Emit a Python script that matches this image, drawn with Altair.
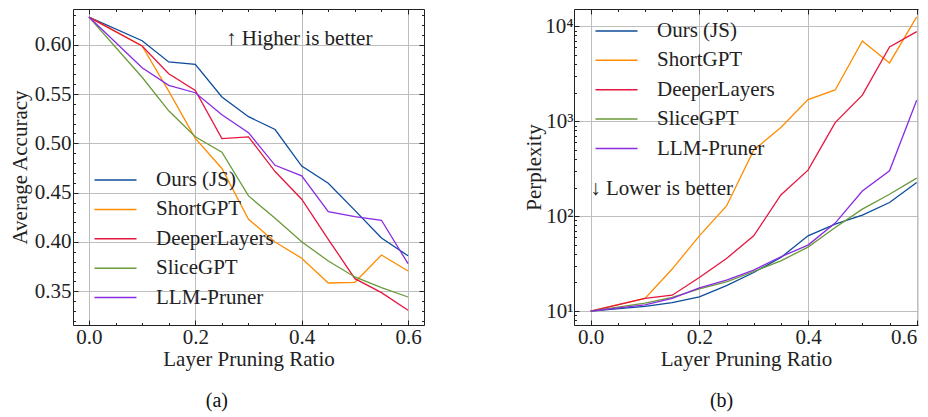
import altair as alt
import pandas as pd

# ---------------- data ----------------
ratios = [0.0, 0.1, 0.15, 0.2, 0.25, 0.3, 0.35, 0.4, 0.45, 0.5, 0.55, 0.6]
methods = ["Ours (JS)", "ShortGPT", "DeeperLayers", "SliceGPT", "LLM-Pruner"]
colors = ["#0C4C9A", "#FF8C00", "#E6163F", "#6A9A3A", "#8A2BE2"]

acc_ours = [0.628, 0.604, 0.5825, 0.580, 0.547, 0.527, 0.514, 0.477, 0.4595, 0.432, 0.404, 0.386]
acc_short = [0.628, 0.5987, 0.553, 0.505, 0.4745, 0.423, 0.400, 0.3835, 0.3584, 0.3591, 0.3868, 0.3706]
acc_deeper = [0.628, 0.5987, 0.5706, 0.5537, 0.5048, 0.5066, 0.4714, 0.4433, 0.4027, 0.3628, 0.3486, 0.3307]
acc_slice = [0.628, 0.567, 0.533, 0.5066, 0.491, 0.4467, 0.424, 0.4003, 0.3807, 0.3645, 0.3537, 0.3442]
acc_pruner = [0.628, 0.5767, 0.5588, 0.5513, 0.529, 0.5108, 0.4777, 0.467, 0.4307, 0.4257, 0.422, 0.378]

ppl_ours = [10, 11.2, 12.3, 14.1, 18.5, 25.5, 36.6, 62, 82.4, 102.6, 139, 226]
ppl_short = [10, 13.6, 27.7, 62, 128, 496, 857, 1687, 2133, 7000, 4110, 12540]
ppl_deeper = [10, 13.6, 14.7, 22.6, 35.8, 62, 167, 305, 966, 1880, 6050, 8780]
ppl_slice = [10, 12.1, 13.9, 17.1, 20.3, 26.1, 33.8, 47.2, 75.9, 118.6, 170, 251]
ppl_pruner = [10, 11.6, 13.6, 17.5, 21.2, 27, 37.3, 49.5, 84.4, 184, 300, 1663]

x_major = [0.0, 0.2, 0.4, 0.6]
acc_major = [0.35, 0.40, 0.45, 0.50, 0.55, 0.60]
ppl_major = [10, 100, 1000, 10000]

# ---------------- tables ----------------
acc_series = [acc_ours, acc_short, acc_deeper, acc_slice, acc_pruner]
ppl_series = [ppl_ours, ppl_short, ppl_deeper, ppl_slice, ppl_pruner]
rows_acc, rows_ppl = [], []
for m, a, p in zip(methods, acc_series, ppl_series):
    for r, va, vp in zip(ratios, a, p):
        rows_acc.append({"ratio": r, "acc": va, "method": m})
        rows_ppl.append({"ratio": r, "ppl": vp, "method": m})
df_acc = pd.DataFrame(rows_acc)
df_ppl = pd.DataFrame(rows_ppl)

annot_acc = pd.DataFrame([{"ratio": 0.2577, "acc": 0.6058, "t": "\u2191 Higher is better"}])
annot_ppl = pd.DataFrame([{"ratio": -0.001, "ppl": 192, "t": "\u2193 Lower is better"}])

x_minor = [round(0.05 * k, 2) for k in range(1, 12) if k % 4 != 0]
acc_minor = [round(0.01 * k, 2) for k in range(32, 64) if k % 5 != 0]
ppl_minor = [8, 9] + [m * 10 ** e for e in (1, 2, 3) for m in range(2, 10)]

FONT = "Liberation Serif"
FS = 21
INK = "#222222"
GRID = "#bdbdbd"


def panel(df, yfield, yscale, ytitle, ymajor, yminor, ylabel_expr, yformat,
          xdomain, width, height, legend_xy, annot, caption, right_side, ytitle_pad,
          ylabel_pad, xflush):
    xscale = alt.Scale(domain=xdomain, nice=False, zero=False)
    yq = yfield + ":Q"

    main_yaxis = dict(values=ymajor, title=ytitle, grid=True, ticks=False, domain=True,
                      domainColor=INK, domainWidth=1, gridColor=GRID, gridWidth=1,
                      labelFont=FONT, labelFontSize=FS, labelColor=INK, labelPadding=ylabel_pad,
                      titleFont=FONT, titleFontSize=FS, titleFontWeight="normal",
                      titleColor=INK, titlePadding=ytitle_pad)
    if ylabel_expr:
        main_yaxis["labelExpr"] = ylabel_expr
    if yformat:
        main_yaxis["format"] = yformat

    main_xaxis = dict(values=x_major, format=".1f", title="Layer Pruning Ratio", grid=True,
                      ticks=False, domain=True, domainColor=INK, domainWidth=1,
                      gridColor=GRID, gridWidth=1, labelFont=FONT, labelFontSize=FS,
                      labelColor=INK, labelPadding=1, titleFont=FONT, titleFontSize=FS,
                      titleFontWeight="normal", titleColor=INK, titlePadding=1)
    if xflush:
        main_xaxis["labelFlush"] = xflush

    lines = alt.Chart(df).mark_line(strokeWidth=1.3, clip=True).encode(
        x=alt.X("ratio:Q", scale=xscale, axis=alt.Axis(**main_xaxis)),
        y=alt.Y(yq, scale=yscale, axis=alt.Axis(**main_yaxis)),
        color=alt.Color("method:N", scale=alt.Scale(domain=methods, range=colors),
                        legend=alt.Legend(orient="none", legendX=legend_xy[0], legendY=legend_xy[1],
                                          title=None, symbolType="M-3,0H3", symbolSize=196,
                                          symbolStrokeWidth=1.5, labelFont=FONT, labelFontSize=FS,
                                          labelColor=INK, labelOffset=30, rowPadding=7.4,
                                          padding=0, symbolOffset=0)),
    )

    def tick_layer(xo, yo, xv, yv, size):
        enc = {}
        enc["x"] = alt.X("ratio:Q", scale=xscale, axis=alt.Axis(
            orient=xo, values=xv, labels=False, domain=False, grid=False, ticks=True,
            tickSize=size, offset=-size, tickColor=INK, tickWidth=1, title=None))
        if yo is None:
            enc["y"] = alt.Y(yq, scale=yscale, axis=None)
        else:
            enc["y"] = alt.Y(yq, scale=yscale, axis=alt.Axis(
                orient=yo, values=yv, labels=False, domain=False, grid=False, ticks=True,
                tickSize=size, offset=-size, tickColor=INK, tickWidth=1, title=None))
        return alt.Chart(df).mark_point(opacity=0).encode(**enc)

    def frame_layer():
        enc = {}
        enc["x"] = alt.X("ratio:Q", scale=xscale, axis=alt.Axis(
            orient="top", labels=False, domain=True, domainColor=INK, domainWidth=1,
            grid=False, ticks=False, title=None))
        if right_side:
            enc["y"] = alt.Y(yq, scale=yscale, axis=alt.Axis(
                orient="right", labels=False, domain=True, domainColor=INK, domainWidth=1,
                grid=False, ticks=False, title=None))
        else:
            enc["y"] = alt.Y(yq, scale=yscale, axis=None)
        return alt.Chart(df).mark_point(opacity=0).encode(**enc)

    text = alt.Chart(annot).mark_text(align="left", baseline="middle", font=FONT,
                                      fontSize=FS, color=INK).encode(
        x=alt.X("ratio:Q", scale=xscale, axis=None),
        y=alt.Y(yq, scale=yscale, axis=None),
        text="t:N",
    )

    layers = [lines, frame_layer(),
              tick_layer("bottom", "left", x_major, ymajor, 5),
              tick_layer("bottom", "left", x_minor, yminor, 2.5),
              tick_layer("top", "right" if right_side else None, x_major, ymajor, 5),
              tick_layer("top", "right" if right_side else None, x_minor, yminor, 2.5),
              text]
    return alt.layer(*layers).resolve_axis(x="independent", y="independent").properties(
        width=width, height=height,
        title=alt.TitleParams(caption, orient="bottom", anchor="middle", frame="bounds",
                              font=FONT, fontSize=20, fontWeight="normal", color="#111111",
                              offset=22))


left = panel(df_acc, "acc", alt.Scale(domain=[0.3158, 0.6362], nice=False, zero=False),
             "Average Accuracy", acc_major, acc_minor, None, ".2f",
             [-0.03, 0.63], 351, 316, (32, 160.5), annot_acc, "(a)", True, 4, 2, None)

ppl_expr = ("datum.value == 10 ? '10\u00b9' : datum.value == 100 ? '10\u00b2' : "
            "datum.value == 1000 ? '10\u00b3' : '10\u2074'")
right = panel(df_ppl, "ppl", alt.Scale(type="log", domain=[7.13, 15200], nice=False),
              "Perplexity", ppl_major, ppl_minor, ppl_expr, None,
              [-0.0307, 0.6024], 344, 316, (32, 11.4), annot_ppl, "(b)", False, 0, 1, 11)

chart = alt.hconcat(left, right, spacing=98).resolve_scale(
    color="independent").resolve_legend(color="independent").properties(
    padding=0).configure_view(strokeWidth=0).configure(background="white")

chart.save("out.html", embed_options={"renderer": "svg", "actions": False})
